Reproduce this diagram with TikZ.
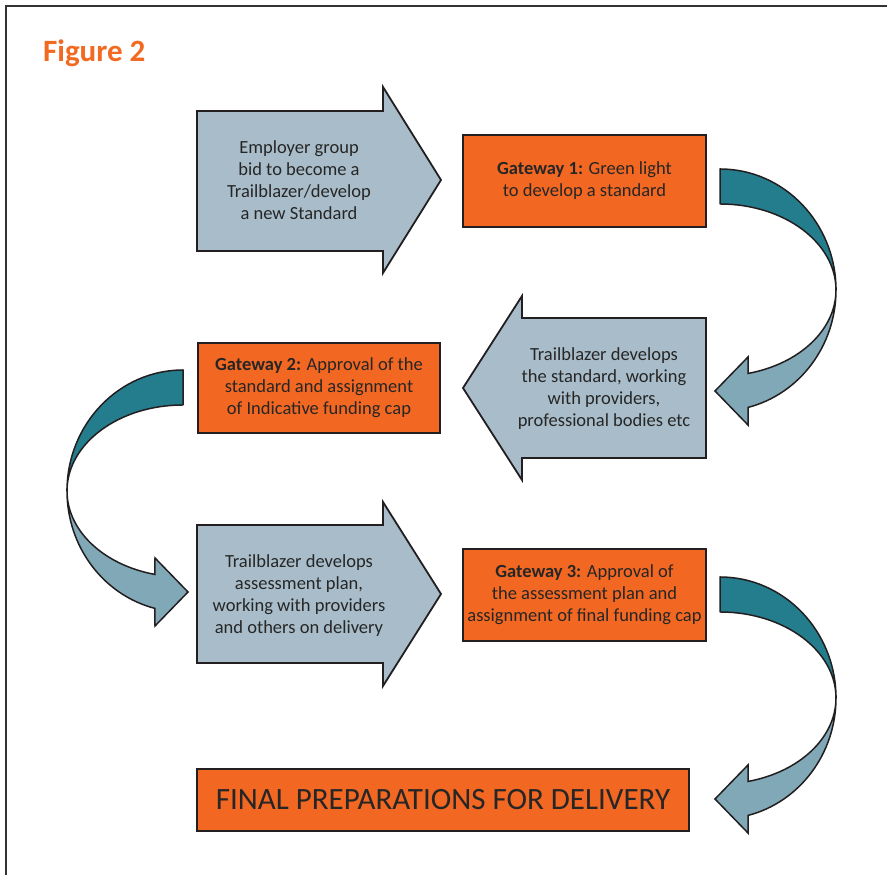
\documentclass[tikz,border=0pt]{standalone}
\usepackage{fontspec}
\setmainfont{Carlito}
\definecolor{orangefill}{HTML}{F26722}
\definecolor{titleorange}{HTML}{F26A21}
\definecolor{arrowgray}{HTML}{A8BDC9}
\definecolor{tealdark}{HTML}{237D8C}
\definecolor{teallight}{HTML}{80A8B6}
\definecolor{edgecol}{HTML}{231F20}
\definecolor{textdark}{HTML}{262626}
\definecolor{framecol}{HTML}{333333}
\newcommand\bentarrow[1]{%
  \begin{scope}[#1]
    \filldraw[bentdark] (0,121) arc[start angle=90,end angle=0,x radius=116,y radius=121]
      arc[start angle=0,end angle=90,x radius=116,y radius=86] -- cycle;
    \filldraw[bentlight] (116,0) arc[start angle=0,end angle=-76,x radius=116,y radius=121]
      -- (28,-135) -- (-5,-101) -- (28,-67) -- (28.06,-83.45)
      arc[start angle=-76,end angle=0,x radius=116,y radius=86] -- cycle;
  \end{scope}}
\begin{document}
\begin{tikzpicture}[x=1pt,y=1pt,
  blockarrow/.style={fill=arrowgray,draw=edgecol,line width=1.8pt,line join=miter},
  bodytext/.style={align=center,font=\fontsize{18.5}{22}\selectfont,text=textdark,inner sep=0pt},
  gatebox/.style={draw=edgecol,fill=orangefill,line width=2pt,inner sep=0pt,align=center,
    font=\fontsize{18.5}{22}\selectfont,text=textdark,minimum width=243,minimum height=92},
  bentdark/.style={fill=tealdark,draw=edgecol,line width=1.5pt,line join=round},
  bentlight/.style={fill=teallight,draw=edgecol,line width=1.5pt,line join=miter}]
\useasboundingbox (0,0) rectangle (887,875);
\fill[white] (0,0) rectangle (887,875);
\draw[framecol,line width=1.5pt] (6,0) -- (6,869) -- (887,869);

\node[anchor=base west,font=\fontsize{31}{31}\selectfont\bfseries,text=titleorange,inner sep=0pt] (title) at (43,813) {Figure 2};

% block arrow 1
\draw[blockarrow] (197,624) -- (197,764) -- (383,764) -- (383,788) -- (441,695) -- (383,602) -- (383,624) -- cycle;
\node[bodytext] (a1) at (299,695) {Employer group\\bid to become a\\Trailblazer/develop\\a new Standard};

\node[gatebox] (g1) at (584.5,694) {\textbf{Gateway 1:} Green light\\to develop a standard};

% block arrow 2 (left)
\draw[blockarrow] (706,417) -- (706,557) -- (522,557) -- (522,579) -- (463,487) -- (522,395) -- (522,417) -- cycle;
\node[bodytext] (a2) at (604,486) {Trailblazer develops\\the standard, working\\with providers,\\professional bodies etc};

\node[gatebox,minimum width=242,minimum height=90] (g2) at (319,487) {\textbf{Gateway 2:} Approval of the\\standard and assignment\\of Indicative funding cap};

% block arrow 3
\draw[blockarrow] (197,212) -- (197,350) -- (383,350) -- (383,373) -- (441,281) -- (383,189) -- (383,212) -- cycle;
\node[bodytext] (a3) at (299,279) {Trailblazer develops\\assessment plan,\\working with providers\\and others on delivery};

\node[gatebox] (g3) at (584.5,280) {\textbf{Gateway 3:} Approval of\\the assessment plan and\\assignment of final funding cap};

\node[gatebox,minimum width=492,minimum height=62,font=\fontsize{31}{31}\selectfont] (fin) at (443,75) {FINAL PREPARATIONS FOR DELIVERY};

% curved arrows
\bentarrow{shift={(720,585)}}
\bentarrow{shift={(183,384)},xscale=-1}
\bentarrow{shift={(720,177)}}
\end{tikzpicture}
\end{document}
